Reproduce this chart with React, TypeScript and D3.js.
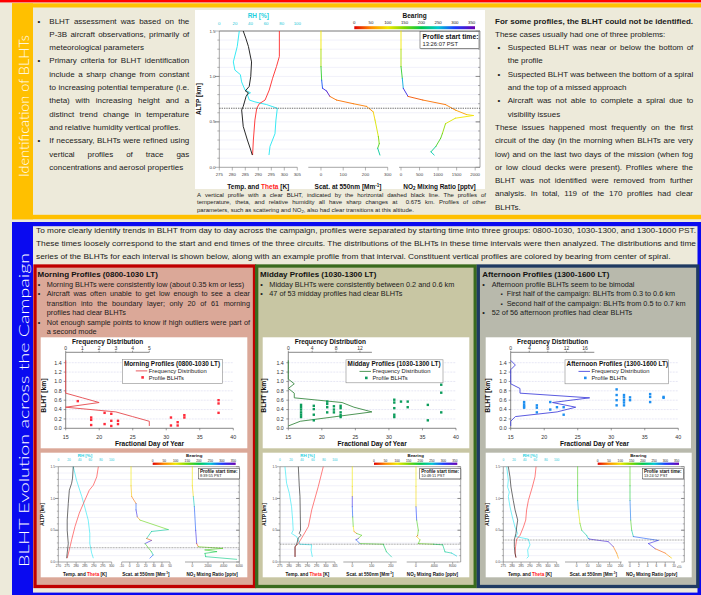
import React from 'react';
import * as d3 from 'd3';

const FONT = '"Liberation Sans", Arial, Helvetica, sans-serif';
const TXT = '#1b1b1b';

// ---------------- frequency distributions (bins of BLHT, km) ----------------
const freqBins = [0.05, 0.15, 0.25, 0.35, 0.45, 0.55, 0.65, 0.75, 0.85, 0.95, 1.05, 1.15, 1.25, 1.35, 1.45];
const morningFreq = [5, 5, 4, 3, 0, 2, 1, 0, 0, 0, 0, 0, 0, 0, 0];
const middayFreq = [0, 2, 8, 14, 11, 9, 1, 1, 0, 1, 0, 0, 0, 0, 0];
const afternoonFreq = [0, 0, 1, 10, 14, 9, 17, 2, 2, 0, 0, 0, 0, 1, 0];

// ---------------- profile BLHTs (fractional day, km) ----------------
const morningDays = [16.8, 18.8, 18.8, 18.8, 20.8, 20.8, 21.8, 21.8, 21.8, 22.8, 22.8, 30.7, 30.7, 31.7, 31.7, 32.7, 32.7, 37.8, 37.8, 37.8];
const morningBLHT = [0.58, 0.23, 0.18, 0.07, 0.33, 0.09, 0.31, 0.16, 0.05, 0.16, 0.09, 0.23, 0.06, 0.13, 0.06, 0.28, 0.23, 0.6, 0.53, 0.33];
const middayDays = [16.9, 16.9, 16.9, 16.9, 16.9, 16.9, 18.8, 18.8, 18.8, 18.8, 20.8, 20.8, 20.8, 20.8, 21.8, 21.8, 21.8, 22.8, 22.8, 22.8, 22.8, 22.8, 30.8, 30.8, 30.8, 30.8, 30.8, 31.8, 32.8, 32.8, 35.8, 35.8, 37.8, 37.8, 37.8];
const middayBLHT = [0.5, 0.45, 0.4, 0.34, 0.29, 0.24, 0.48, 0.41, 0.29, 0.17, 0.57, 0.52, 0.45, 0.34, 0.47, 0.4, 0.34, 0.48, 0.43, 0.34, 0.28, 0.24, 0.61, 0.55, 0.43, 0.29, 0.24, 0.57, 0.57, 0.45, 0.5, 0.17, 0.93, 0.76, 0.34];
const afternoonDays = [17.0, 17.0, 17.0, 17.0, 18.9, 18.9, 18.9, 20.9, 20.9, 21.9, 22.9, 22.9, 30.8, 30.8, 30.8, 30.8, 31.9, 31.9, 31.9, 31.9, 31.9, 32.8, 32.8, 35.8, 35.8, 35.8, 37.8, 37.8];
const afternoonBLHT = [0.56, 0.51, 0.47, 0.44, 0.49, 0.44, 0.34, 0.56, 0.4, 0.45, 0.45, 0.29, 0.83, 0.71, 0.6, 0.49, 0.71, 0.66, 0.6, 0.55, 0.49, 0.66, 0.6, 0.73, 0.67, 0.56, 0.67, 0.65];

// ---------------- example vertical profiles: [value, altitude km, (bearing deg)] ----------------
const mainTemp = [[284.2, 1.5], [285.2, 1.42], [286.2, 1.33], [287.4, 1.16], [287.1, 1.0], [286.5, 0.89], [285.0, 0.84], [286.2, 0.82], [285.3, 0.78], [284.2, 0.67], [283.6, 0.63], [284.2, 0.45], [285.8, 0.3], [287.1, 0.19], [287.7, 0.135]];
const mainTheta = [[298.1, 1.5], [298.1, 1.22], [297.0, 1.11], [295.5, 0.98], [294.2, 0.85], [292.6, 0.74], [290.4, 0.7], [289.4, 0.65], [288.7, 0.52], [288.1, 0.3], [287.8, 0.135]];
const mainRH = [[25.6, 1.5], [23, 1.33], [18, 1.16], [20, 1.07], [27, 1.02], [28.6, 0.94], [33, 0.85], [40, 0.82], [36, 0.8], [38.5, 0.74], [45.7, 0.72], [60.7, 0.69], [74.4, 0.65], [72.6, 0.52], [71.4, 0.37], [65, 0.23], [63.7, 0.135]];
const mainScat = [[0, 1.5, 100], [0, 1.3, 130], [0, 1.11, 180], [3, 0.96, 290], [7, 0.87, 320], [25, 0.84, 340], [40, 0.78, 40], [70, 0.74, 40], [145, 0.7, 45], [205, 0.67, 50], [235, 0.61, 90], [243, 0.52, 110], [258, 0.34, 150], [262, 0.26, 170], [255, 0.21, 230], [265, 0.135, 240]];
const mainNO2 = [[0, 1.5, 100], [0, 1.3, 130], [0, 1.11, 180], [35, 0.98, 260], [61, 0.87, 320], [190, 0.78, 30], [590, 0.74, 40], [1200, 0.69, 45], [1465, 0.63, 60], [1770, 0.58, 90], [1950, 0.57, 100], [1465, 0.54, 110], [1200, 0.48, 140], [1115, 0.37, 160], [1070, 0.32, 170], [940, 0.23, 220], [807, 0.17, 240], [895, 0.135, 240]];

const morningTemp = [[278.4, 1.5], [278.0, 1.32], [277.5, 1.24], [276.2, 1.13], [275.6, 0.92], [275, 0.66], [275, 0.5], [275.6, 0.29], [275, 0.14], [274.7, 0.06]];
const morningTheta = [[292.5, 1.5], [291.6, 1.34], [289.7, 1.21], [287.4, 1.13], [284.1, 0.92], [281.8, 0.77], [279.4, 0.56], [277.5, 0.35], [276.6, 0.24], [275, 0.06]];
const morningRH = [[28, 1.5], [31, 1.4], [34, 1.29], [44, 1.03], [50, 0.85], [56, 0.66], [58, 0.52], [59, 0.45], [59, 0.29], [62.5, 0.14], [65.6, 0.06]];
const morningScat = [[1.6, 1.5, 100], [1.6, 1.2, 80], [2.4, 1.03, 40], [7.8, 0.92, 290], [7.8, 0.82, 320], [9.4, 0.71, 60], [12.7, 0.66, 160], [47.8, 0.51, 230], [27, 0.48, 230], [21, 0.37, 30], [27, 0.34, 320], [19, 0.29, 170], [27, 0.16, 230], [29, 0.11, 290], [25, 0.06, 240]];
const morningNO2 = [[0, 1.5, 100], [0, 1.2, 90], [128, 1.03, 240], [255, 0.87, 290], [425, 0.5, 320], [553, 0.29, 30], [766, 0.24, 160], [3870, 0.215, 170], [1617, 0.19, 180], [3106, 0.163, 200], [1617, 0.136, 210], [1700, 0.084, 220], [5660, 0.042, 230]];

const middayTemp = [[285, 1.5], [285.5, 1.2], [285.9, 1.03], [286.2, 0.5], [285.5, 0.45], [286.5, 0.42], [285, 0.38], [284.1, 0.28], [283.2, 0.24], [283.2, 0.08]];
const middayTheta = [[298.6, 1.5], [295.9, 1.19], [292.3, 0.82], [290.5, 0.56], [287.7, 0.42], [285, 0.29], [283.2, 0.24], [283.2, 0.08]];
const middayRH = [[9, 1.5], [12, 1.24], [17, 1.08], [21, 0.87], [23, 0.66], [24, 0.5], [21, 0.45], [30, 0.4], [33, 0.35], [36, 0.28], [57.6, 0.27], [56.4, 0.19], [58.8, 0.08]];
const middayScat = [[0, 1.5, 100], [0, 1.19, 90], [0, 1.03, 320], [0, 0.87, 290], [2, 0.71, 170], [5, 0.56, 100], [9, 0.48, 40], [22, 0.45, 170], [48, 0.42, 160], [31, 0.37, 330], [19, 0.35, 290], [40, 0.29, 170], [160, 0.28, 200], [177, 0.16, 230], [203, 0.08, 270]];
const middayNO2 = [[0, 1.5, 100], [0, 1.19, 90], [0, 0.87, 300], [145, 0.66, 170], [509, 0.5, 160], [364, 0.42, 30], [145, 0.4, 90], [873, 0.35, 170], [509, 0.29, 160], [3780, 0.28, 200], [5820, 0.27, 220], [6330, 0.16, 230], [7780, 0.14, 250], [8870, 0.094, 280]];

const afternoonTemp = [[277.8, 1.5], [278.75, 1.34], [279.3, 1.18], [280.6, 0.97], [281.6, 0.82], [283.1, 0.66], [282.5, 0.55], [282.1, 0.45], [281.2, 0.35], [281.2, 0.24], [281.6, 0.14], [282.1, 0.07]];
const afternoonTheta = [[293.4, 1.5], [292.8, 1.34], [291.3, 1.18], [289.1, 0.97], [288.1, 0.82], [287.6, 0.66], [286.3, 0.55], [284.4, 0.42], [282.5, 0.36], [281.9, 0.24], [281.6, 0.14], [282.1, 0.07]];
const afternoonRH = [[6.3, 1.5], [9.4, 1.29], [8.1, 1.18], [11.3, 1.1], [9.4, 1.03], [12.5, 0.87], [16.9, 0.71], [21.9, 0.55], [26.9, 0.45], [23.1, 0.4], [46.9, 0.36], [50, 0.27], [45.6, 0.19], [46.9, 0.084], [43.8, 0.058]];
const afternoonScat = [[4.5, 1.5, 170], [4.5, 1.2, 180], [4.5, 0.97, 260], [7.6, 0.82, 110], [15, 0.61, 160], [23, 0.5, 230], [45, 0.42, 240], [53, 0.37, 290], [60, 0.36, 330], [144, 0.32, 330], [167, 0.24, 40], [182, 0.14, 60], [190, 0.06, 100]];
const afternoonNO2 = [[0, 1.5, 170], [0, 1.2, 190], [0, 0.97, 280], [0.15, 0.66, 170], [0.38, 0.5, 230], [0.76, 0.4, 290], [6.4, 0.34, 320], [4.2, 0.29, 320], [5.7, 0.21, 30], [8.0, 0.14, 50], [9.1, 0.08, 90], [9.5, 0.06, 100]];

// ---------------- bearing colour scale ----------------
const bearingStops = [0, 50, 100, 150, 200, 250, 300, 360];
const bearingColors = ['#e00000', '#ff8c00', '#f0e800', '#7ad600', '#00c84a', '#00c8d2', '#1a3cff', '#6a00b0'];
const bearingTicks = [0, 50, 100, 150, 200, 250, 300, 350];
const bearingScale = d3.scaleLinear<string>().domain(bearingStops).range(bearingColors);

// ---------------- text helpers ----------------
let _ctx: any = null;
function textW(s: string, size: number, weight: any = 400) {
  if (!_ctx) _ctx = document.createElement('canvas').getContext('2d');
  _ctx.font = `${weight} ${size}px "Liberation Sans"`;
  return _ctx.measureText(s).width;
}

function TLine({ x, y, text, size, weight = 400, width, fill = TXT }: any) {
  if (!width) return <text x={x} y={y} fontSize={size} fontWeight={weight} fill={fill}>{text}</text>;
  const words = text.split(' ');
  const ws = words.map((w: string) => textW(w, size, weight));
  const total = ws.reduce((a: number, b: number) => a + b, 0);
  const gap = words.length > 1 ? (width - total) / (words.length - 1) : 0;
  let cx = x;
  const spans = words.map((w: string, i: number) => {
    const el = <tspan key={i} x={cx}>{w}</tspan>;
    cx += ws[i] + gap;
    return el;
  });
  return <text y={y} fontSize={size} fontWeight={weight} fill={fill}>{spans}</text>;
}

function Block({ lines, x, xb, bx, width, bwidth, y0, dy, size }: any) {
  return (
    <g>
      {lines.map((l: any, i: number) => {
        const y = y0 + i * dy;
        const tx = l.b || l.ind ? xb : x;
        const w = l.b || l.ind ? bwidth : width;
        return (
          <g key={i}>
            {l.b && <text x={bx} y={y} fontSize={size} fill={TXT}>•</text>}
            <TLine x={tx} y={y} text={l.t} size={size} weight={l.bold ? 700 : 400} width={l.j ? w : undefined} />
          </g>
        );
      })}
    </g>
  );
}

const topLeftLines = [
  { t: 'BLHT assessment was based on the', b: true, j: true },
  { t: 'P-3B aircraft observations, primarily of', ind: true, j: true },
  { t: 'meteorological parameters', ind: true },
  { t: 'Primary criteria for BLHT identification', b: true, j: true },
  { t: 'include a sharp change from constant', ind: true, j: true },
  { t: 'to increasing potential temperature (i.e.', ind: true, j: true },
  { t: 'theta) with increasing height and a', ind: true, j: true },
  { t: 'distinct trend change in temperature', ind: true, j: true },
  { t: 'and relative humidity vertical profiles.', ind: true },
  { t: 'If necessary, BLHTs were refined using', b: true, j: true },
  { t: 'vertical profiles of trace gas', ind: true, j: true },
  { t: 'concentrations and aerosol properties', ind: true },
];

const topRightLines = [
  { t: 'For some profiles, the BLHT could not be identified.', bold: true, j: true },
  { t: 'These cases usually had one of three problems:' },
  { t: 'Suspected BLHT was near or below the bottom of', b: true, j: true },
  { t: 'the profile', ind: true },
  { t: 'Suspected BLHT was between the bottom of a spiral', b: true, j: true },
  { t: 'and the top of a missed approach', ind: true },
  { t: 'Aircraft was not able to complete a spiral due to', b: true, j: true },
  { t: 'visibility issues', ind: true },
  { t: 'These issues happened most frequently on the first', j: true },
  { t: 'circuit of the day (in the morning when BLHTs are very', j: true },
  { t: 'low) and on the last two days of the mission (when fog', j: true },
  { t: 'or low cloud decks were present). Profiles where the', j: true },
  { t: 'BLHT was not identified were removed from further', j: true },
  { t: 'analysis. In total, 119 of the 170 profiles had clear', j: true },
  { t: 'BLHTs.' },
];

const captionLines = [
  'A vertical profile with a clear BLHT, indicated by the horizontal dashed black line. The profiles of',
  'temperature, theta, and relative humidity all have sharp changes at  0.675 km. Profiles of other',
];

const introLines = [
  'To more clearly identify trends in BLHT from day to day across the campaign, profiles were separated by starting time into three groups: 0800-1030, 1030-1300, and 1300-1600 PST.',
  'These times loosely correspond to the start and end times of the three circuits. The distributions of the BLHTs in these time intervals were then analyzed. The distributions and time',
  'series of the BLHTs for each interval is shown below, along with an example profile from that interval. Constituent vertical profiles are colored by bearing from center of spiral.',
];

const morningNotes = [
  { t: 'Morning BLHTs were consistently low (about 0.35 km or less)', b: true },
  { t: 'Aircraft was often unable to get low enough to see a clear', b: true, j: true },
  { t: 'transition into the boundary layer; only 20 of 61 morning', ind: true, j: true },
  { t: 'profiles had clear BLHTs', ind: true },
  { t: 'Not enough sample points to know if high outliers were part of', b: true, j: true },
  { t: 'a second mode', ind: true },
];
const middayNotes = [
  { t: 'Midday BLHTs were consistently between 0.2 and 0.6 km', b: true },
  { t: '47 of 53 midday profiles had clear BLHTs', b: true },
];

// ---------------- profile chart ----------------
function Profile(c: any) {
  const y = d3.scaleLinear().domain([0, 1.5]).range([c.yBot, c.yTop]);
  const xT = d3.scaleLinear().domain(c.tDom).range(c.p1);
  const xR = d3.scaleLinear().domain([0, 100]).range(c.p1);
  const xS = d3.scaleLinear().domain(c.sDom).range(c.p2);
  const xN = d3.scaleLinear().domain(c.nDom).range(c.p3);
  const L = c.p1[0];
  const R = c.rightX;
  const mk = (sx: any) => d3.line<any>().x((d: any) => sx(d[0])).y((d: any) => y(d[1]));
  const segs = (data: any[], sx: any) =>
    data.slice(1).map((d: any, i: number) => {
      const p = data[i];
      return <line key={i} x1={sx(p[0])} y1={y(p[1])} x2={sx(d[0])} y2={y(d[1])} stroke={bearingScale(p[2])} strokeWidth={c.lw} strokeLinecap="round" />;
    });
  const minor = d3.range(1, 15).map((k) => k / 10);
  const major = [0, 0.5, 1.0, 1.5];
  const cb = c.cbar;
  const cbx = d3.scaleLinear().domain([0, 360]).range([cb[0], cb[0] + cb[2]]);
  const gid = 'cbg-' + c.id;
  const tb = c.tbox;
  const axisCol = '#6a6a6a';
  const tickCol = '#444';
  const panels = [
    { r: c.p1, sx: xT, ticks: c.tTicks },
    { r: c.p2, sx: xS, ticks: c.sTicks },
    { r: c.p3, sx: xN, ticks: c.nTicks },
  ];
  const tl = c.fsTick * 0.45;
  return (
    <g>
      <defs>
        <linearGradient id={gid} x1="0" x2="1" y1="0" y2="0">
          {bearingStops.map((s, i) => (
            <stop key={i} offset={s / 360} stopColor={bearingColors[i]} />
          ))}
        </linearGradient>
      </defs>
      <rect x={c.box[0]} y={c.box[1]} width={c.box[2]} height={c.box[3]} fill="#fff" />
      {minor.map((v) => (
        <line key={v} x1={L} x2={R} y1={y(v)} y2={y(v)} stroke="#e2e2f4" strokeWidth={0.5} />
      ))}
      <line x1={L} x2={R} y1={c.yTop} y2={c.yTop} stroke={axisCol} strokeWidth={c.lw} />
      <line x1={L} x2={L} y1={c.yTop} y2={c.yBot} stroke={axisCol} strokeWidth={0.6} />
      <line x1={R} x2={R} y1={c.yTop} y2={c.yBot} stroke={axisCol} strokeWidth={0.6} />
      {minor.concat(major).map((v, i) => {
        const len = major.includes(v) ? tl * 2.2 : tl;
        return (
          <g key={i}>
            <line x1={L - len} x2={L} y1={y(v)} y2={y(v)} stroke={axisCol} strokeWidth={0.5} />
            <line x1={R - len} x2={R} y1={y(v)} y2={y(v)} stroke={axisCol} strokeWidth={0.5} />
          </g>
        );
      })}
      {major.map((v) => (
        <text key={v} x={c.yTickX} y={y(v) + c.fsTick * 0.35} fontSize={c.fsTick} textAnchor="end" fill={tickCol}>
          {v.toFixed(1)}
        </text>
      ))}
      {panels.map((p, i) => (
        <g key={i}>
          <line x1={p.r[0]} x2={p.r[1]} y1={c.yBot} y2={c.yBot} stroke={axisCol} strokeWidth={0.6} />
          {p.ticks.map((t: number) => (
            <g key={t}>
              <line x1={p.sx(t)} x2={p.sx(t)} y1={c.yBot} y2={c.yBot + tl * 1.6} stroke={axisCol} strokeWidth={0.5} />
              <text x={p.sx(t)} y={c.bTickY} fontSize={c.fsTick} textAnchor="middle" fill={tickCol}>
                {t}
              </text>
            </g>
          ))}
        </g>
      ))}
      {c.nSuffix && (
        <text x={c.p3[1] + 2} y={c.bTickY + 0.5} fontSize={c.fsTick * 0.8} fill={tickCol}>
          {c.nSuffix}
        </text>
      )}
      {/* RH top axis */}
      {[0, 20, 40, 60, 80, 100].map((t) => (
        <text key={t} x={xR(t)} y={c.rhTickY} fontSize={c.fsTick} textAnchor="middle" fill="#1fc8d8">
          {t}
        </text>
      ))}
      <text x={(c.p1[0] + c.p1[1]) / 2} y={c.rhTitleY} fontSize={c.fsHead} fontWeight={700} textAnchor="middle" fill="#1fd0e0">
        RH [%]
      </text>
      {/* bearing colour bar */}
      <rect x={cb[0]} y={cb[1]} width={cb[2]} height={cb[3]} fill={`url(#${gid})`} />
      {bearingTicks.map((t) => (
        <text key={t} x={cbx(t)} y={c.cbTickY} fontSize={c.fsTick} textAnchor="middle" fill="#222">
          {t}
        </text>
      ))}
      <text x={cb[0] + cb[2] / 2} y={c.cbTitleY} fontSize={c.fsHead} fontWeight={700} textAnchor="middle" fill="#111">
        Bearing
      </text>
      {/* profiles */}
      <path d={mk(xR)(c.rh) as string} fill="none" stroke="#22e6f2" strokeWidth={c.lw} />
      <path d={mk(xT)(c.theta) as string} fill="none" stroke="#ff2a2a" strokeWidth={c.lw} />
      <path d={mk(xT)(c.temp) as string} fill="none" stroke="#111" strokeWidth={c.lw} />
      {segs(c.scat, xS)}
      {segs(c.no2, xN)}
      {/* BLHT line */}
      <line x1={L} x2={R} y1={y(c.blht)} y2={y(c.blht)} stroke="#333" strokeWidth={c.lw * 0.8} strokeDasharray={`${c.lw * 1.5},${c.lw * 1.1}`} />
      {/* start time box */}
      <rect x={tb[0] + 0.8} y={tb[1] + 0.8} width={tb[2]} height={tb[3]} fill="#bbb" />
      <rect x={tb[0]} y={tb[1]} width={tb[2]} height={tb[3]} fill="#fff" stroke="#555" strokeWidth={0.6} />
      <text x={tb[0] + tb[3] * 0.15} y={tb[1] + tb[3] * 0.44} fontSize={c.fsTime[0]} fontWeight={700} fill="#111">
        Profile start time:
      </text>
      <text x={tb[0] + tb[3] * 0.15} y={tb[1] + tb[3] * 0.86} fontSize={c.fsTime[1]} fill="#222">
        {c.time}
      </text>
      {/* axis titles */}
      <text x={c.altX} y={(c.yTop + c.yBot) / 2} fontSize={c.fsTitle} fontWeight={700} textAnchor="middle" transform={`rotate(-90 ${c.altX} ${(c.yTop + c.yBot) / 2})`} fill="#111">
        ALTP [km]
      </text>
      <text x={(c.p1[0] + c.p1[1]) / 2} y={c.titleY} fontSize={c.fsTitle} fontWeight={700} textAnchor="middle" fill="#111">
        Temp. and <tspan fill="#ff1a1a">Theta</tspan> [K]
      </text>
      <text x={(c.p2[0] + c.p2[1]) / 2} y={c.titleY} fontSize={c.fsTitle} fontWeight={700} textAnchor="middle" fill="#111">
        Scat. at 550nm [Mm<tspan dy={-c.fsTitle * 0.35} fontSize={c.fsTitle * 0.7}>-1</tspan>
        <tspan dy={c.fsTitle * 0.35}>]</tspan>
      </text>
      <text x={(c.p3[0] + c.p3[1]) / 2} y={c.titleY} fontSize={c.fsTitle} fontWeight={700} textAnchor="middle" fill="#111">
        NO<tspan dy={c.fsTitle * 0.25} fontSize={c.fsTitle * 0.7}>2</tspan>
        <tspan dy={-c.fsTitle * 0.25}> Mixing Ratio [pptv]</tspan>
      </text>
    </g>
  );
}

// ---------------- BLHT scatter / frequency chart ----------------
function Scatter(c: any) {
  const y = d3.scaleLinear().domain([0, 1.4]).range([c.y0, c.y14]);
  const x = d3.scaleLinear().domain([15, 40]).range([c.l, c.r]);
  const f = d3.scaleLinear().domain([0, c.fMax]).range([c.l, c.l + 83.6]);
  const yt = d3.range(0, 8).map((k) => k * 0.2);
  const fl = d3.line<number>().x((d) => f(d)).y((d, i) => y(freqBins[i]));
  const [lx, ly, lw, lh] = c.legend;
  const ax = '#555';
  return (
    <g>
      <rect x={c.box[0]} y={c.box[1]} width={c.box[2]} height={c.box[3]} fill="#fff" />
      {yt.slice(1).map((v) => (
        <line key={v} x1={c.l} x2={c.r} y1={y(v)} y2={y(v)} stroke="#d6d6ee" strokeWidth={0.6} strokeDasharray="2,1" />
      ))}
      <line x1={c.l} x2={c.l} y1={c.top} y2={c.y0} stroke={ax} strokeWidth={0.7} />
      {yt.map((v) => (
        <g key={v}>
          <line x1={c.l - 2} x2={c.l} y1={y(v)} y2={y(v)} stroke={ax} strokeWidth={0.6} />
          <text x={c.yTickX} y={y(v) + 1.9} fontSize={5.3} textAnchor="end" fill="#333">
            {v.toFixed(1)}
          </text>
        </g>
      ))}
      <line x1={c.l} x2={c.r} y1={c.y0} y2={c.y0} stroke={ax} strokeWidth={0.7} />
      {[15, 20, 25, 30, 35, 40].map((v) => (
        <g key={v}>
          <line x1={x(v)} x2={x(v)} y1={c.y0} y2={c.y0 + 2} stroke={ax} strokeWidth={0.6} />
          <text x={x(v)} y={c.y0 + 10.2} fontSize={5.3} textAnchor="middle" fill="#333">
            {v}
          </text>
        </g>
      ))}
      <line x1={c.l} x2={c.l + 83.6} y1={c.top} y2={c.top} stroke={ax} strokeWidth={0.7} />
      {c.fTicks.map((v: number) => (
        <g key={v}>
          <line x1={f(v)} x2={f(v)} y1={c.top} y2={c.top - 1.6} stroke={ax} strokeWidth={0.6} />
          <text x={f(v)} y={c.top - 2.4} fontSize={5} textAnchor="middle" fill="#333">
            {v}
          </text>
        </g>
      ))}
      <text x={c.l + 42} y={c.top - 8.6} fontSize={6.5} fontWeight={700} textAnchor="middle" fill="#111">
        Frequency Distribution
      </text>
      <text x={c.ylabX} y={(c.y0 + c.y14) / 2} fontSize={6.8} fontWeight={700} textAnchor="middle" transform={`rotate(-90 ${c.ylabX} ${(c.y0 + c.y14) / 2})`} fill="#111">
        BLHT [km]
      </text>
      <text x={(c.l + c.r) / 2} y={c.y0 + 18} fontSize={6.6} fontWeight={700} textAnchor="middle" fill="#111">
        Fractional Day of Year
      </text>
      <path d={fl(c.freq) as string} fill="none" stroke={c.lineColor} strokeWidth={0.9} />
      {c.days.map((d: number, i: number) => (
        <rect key={i} x={x(d) - 1.2} y={y(c.blht[i]) - 1.2} width={2.4} height={2.4} fill={c.ptColor} />
      ))}
      <rect x={lx} y={ly} width={lw} height={lh} fill="#fff" stroke="#8a8a8a" strokeWidth={0.6} />
      <text x={lx + 1.6} y={ly + 6.4} fontSize={6.4} fontWeight={700} fill="#111">
        {c.title}
      </text>
      <line x1={lx + 13.5} x2={lx + 25} y1={ly + 11.6} y2={ly + 11.6} stroke={c.lineColor} strokeWidth={0.9} />
      <text x={lx + 26.5} y={ly + 13.6} fontSize={5.8} fill="#222">
        Frequency Distribution
      </text>
      <rect x={lx + 19} y={ly + 16.8} width={2.6} height={2.6} fill={c.ptColor} />
      <text x={lx + 26.5} y={ly + 20.6} fontSize={5.8} fill="#222">
        Profile BLHTs
      </text>
    </g>
  );
}

const mainCfg = {
  id: 'main', box: [195, 10, 290, 179], yTop: 31, yBot: 167.3,
  p1: [219.3, 297.3], tDom: [275, 305], tTicks: [275, 280, 285, 290, 295, 300, 305],
  p2: [308.3, 387.7], sDom: [-57, 300], sTicks: [0, 100, 200, 300],
  p3: [399, 480], nDom: [-54, 2130], nTicks: [0, 500, 1000, 1500, 2000],
  rightX: 480, cbar: [354.3, 26.2, 120.7, 3], tbox: [420, 31.5, 59, 17], time: '13:26:07 PST', blht: 0.65,
  fsTick: 4.4, fsTitle: 6.5, fsHead: 6.5, fsTime: [6.8, 5.8],
  rhTitleY: 17.5, rhTickY: 25, cbTitleY: 17.5, cbTickY: 24.2, bTickY: 176.3, titleY: 188.8, altX: 201.5, yTickX: 215.5, lw: 0.9,
  temp: mainTemp, theta: mainTheta, rh: mainRH, scat: mainScat, no2: mainNO2,
};
const smallBase = {
  yTop: 466.7, yBot: 562, fsTick: 3.2, fsTitle: 4.6, fsHead: 4.4, fsTime: [4.6, 3.9],
  rhTitleY: 456.8, rhTickY: 461.4, cbTitleY: 456.8, cbTickY: 461.6, bTickY: 567.4, titleY: 575.8, lw: 0.6,
};
const morningCfg = {
  ...smallBase, id: 'mo', box: [40.7, 452.7, 206.6, 124.6],
  p1: [58.3, 111.7], tDom: [270, 300], tTicks: [270, 275, 280, 285, 290, 295, 300],
  p2: [121.7, 170], sDom: [-10, 50], sTicks: [-10, 0, 10, 20, 30, 40, 50],
  p3: [185, 239.3], nDom: [-936, 5996], nTicks: [0, 2000, 4000, 6000],
  rightX: 239.3, cbar: [152.7, 462.6, 83, 2.3], tbox: [198.3, 468.3, 41, 10.6], time: '8:39:55 PST', blht: 0.225,
  altX: 44.5, yTickX: 55,
  temp: morningTemp, theta: morningTheta, rh: morningRH, scat: morningScat, no2: morningNO2,
};
const middayCfg = {
  ...smallBase, id: 'md', box: [262.7, 452.7, 206.6, 124.6],
  p1: [280, 335], tDom: [275, 305], tTicks: [275, 280, 285, 290, 295, 300, 305],
  p2: [343.3, 396.7], sDom: [-46.5, 229.7], sTicks: [0, 100, 200],
  p3: [406.7, 458.3], nDom: [-2029, 9229], nTicks: [0, 4000, 8000],
  rightX: 460.7, cbar: [374, 462.6, 83.3, 2.3], tbox: [419.7, 468.3, 41, 10.6], time: '10:48:11 PST', blht: 0.28,
  altX: 266.5, yTickX: 277,
  temp: middayTemp, theta: middayTheta, rh: middayRH, scat: middayScat, no2: middayNO2,
};
const afternoonCfg = {
  ...smallBase, id: 'af', box: [485.7, 452.7, 206, 124.6],
  p1: [503.3, 556.7], tDom: [275, 305], tTicks: [275, 280, 285, 290, 295, 300, 305],
  p2: [565, 621.7], sDom: [-53, 205], sTicks: [0, 50, 100, 150, 200],
  p3: [628.3, 675], nDom: [-0.39, 10.23], nTicks: [0, 2, 4, 6, 8, 10], nSuffix: 'x10³',
  rightX: 684.3, cbar: [597.7, 462.6, 81.3, 2.3], tbox: [642.3, 468.3, 41, 10.6], time: '13:24:52 PST', blht: 0.346,
  altX: 489.5, yTickX: 500,
  temp: afternoonTemp, theta: afternoonTheta, rh: afternoonRH, scat: afternoonScat, no2: afternoonNO2,
};

export default function App() {
  const beige = '#EDEADA';
  return (
    <svg width={701} height={595} viewBox="0 0 701 595" style={{ position: 'absolute', left: 0, top: 0, fontFamily: FONT }}>
      <rect width={701} height={595} fill={beige} />
      {/* ---------- top section frame ---------- */}
      <rect x={0} y={0} width={701} height={2.4} fill="#FF0000" />
      <rect x={12} y={3.3} width={689} height={4.2} fill="#FFC000" />
      <rect x={12} y={3.3} width={21} height={216} fill="#FFC000" />
      <rect x={12} y={214.8} width={689} height={4.4} fill="#FFC000" />
      <text transform="translate(28.6 106) rotate(-90)" textAnchor="middle" fontFamily="Lato, 'Open Sans', sans-serif" fontWeight={300} fontSize={14.5} fill="#fff" textLength={142} lengthAdjust="spacingAndGlyphs">
        Identification of BLHTs
      </text>
      <Block lines={topLeftLines} x={49.3} xb={49.3} bx={37.5} width={140} bwidth={140} y0={23.5} dy={13.3} size={8} />
      <Block lines={topRightLines} x={495} xb={507.7} bx={497.5} width={198} bwidth={185.6} y0={23.5} dy={13.3} size={8} />
      <Profile {...mainCfg} />
      {captionLines.map((t, i) => (
        <TLine key={i} x={197} y={196.6 + i * 7.6} text={t} size={6} width={289} fill="#222" />
      ))}
      <text x={197} y={211.8} fontSize={6} fill="#222">
        parameters, such as scattering and NO<tspan dy={1.2} fontSize={4.2}>2</tspan>
        <tspan dy={-1.2}>, also had clear transitions at this altitude.</tspan>
      </text>

      {/* ---------- bottom section frame ---------- */}
      <rect x={12} y={222} width={689} height={4.2} fill="#0A0AF0" />
      <rect x={12} y={222} width={21} height={373} fill="#0A0AF0" />
      <rect x={697.5} y={222} width={3.5} height={373} fill="#0A0AF0" />
      <rect x={12} y={592.6} width={689} height={2.4} fill="#0A0AF0" />
      <text transform="translate(28.6 410) rotate(-90)" textAnchor="middle" fontFamily="Lato, 'Open Sans', sans-serif" fontWeight={300} fontSize={14.5} fill="#fff" textLength={314} lengthAdjust="spacingAndGlyphs">
        BLHT Evolution across the Campaign
      </text>
      {introLines.map((t, i) => (
        <text key={i} x={36} y={232.8 + i * 13.3} fontSize={8} fill={TXT} textLength={i < 2 ? 660 : 634.5} lengthAdjust="spacingAndGlyphs">
          {t}
        </text>
      ))}

      {/* column boxes */}
      <rect x={35} y={266} width={219.5} height={320.5} fill="#DBA898" stroke="#C00000" strokeWidth={3.3} />
      <rect x={256.7} y={266} width={218.5} height={320.5} fill="#C8C6A3" stroke="#3A6B1E" strokeWidth={3.3} />
      <rect x={478.3} y={266} width={219.5} height={320.5} fill="#B8B9AC" stroke="#1F3A62" strokeWidth={3.3} />

      <text x={37.5} y={277.2} fontSize={8} fontWeight={700} fill="#111">Morning Profiles (0800-1030 LT)</text>
      <text x={260} y={277.2} fontSize={8} fontWeight={700} fill="#111">Midday Profiles (1030-1300 LT)</text>
      <text x={482.3} y={277.2} fontSize={8} fontWeight={700} fill="#111">Afternoon Profiles (1300-1600 LT)</text>

      <Block lines={morningNotes} x={46.7} xb={46.7} bx={37.8} width={203.3} bwidth={203.3} y0={286.8} dy={9.5} size={7.3} />
      <Block lines={middayNotes} x={269.3} xb={269.3} bx={260.2} width={200} bwidth={200} y0={286.8} dy={9.5} size={7.3} />
      <g>
        <text x={482.3} y={286.8} fontSize={7.3} fill={TXT}>•</text>
        <text x={491.7} y={286.8} fontSize={7.3} fill={TXT}>Afternoon profile BLHTs seem to be bimodal</text>
        <text x={500.5} y={296.3} fontSize={6} fill={TXT}>▪</text>
        <text x={506.7} y={296.3} fontSize={7.3} fill={TXT}>First half of the campaign: BLHTs from 0.3 to 0.6 km</text>
        <text x={500.5} y={305.8} fontSize={6} fill={TXT}>▪</text>
        <text x={506.7} y={305.8} fontSize={7.3} fill={TXT}>Second half of the campaign: BLHTs from 0.5 to 0.7 km</text>
        <text x={482.3} y={315.3} fontSize={7.3} fill={TXT}>•</text>
        <text x={491.7} y={315.3} fontSize={7.3} fill={TXT}>52 of 56 afternoon profiles had clear BLHTs</text>
      </g>

      <Scatter box={[40.7, 337.3, 206.6, 111]} l={65.7} r={233.3} y0={428.3} y14={362.7} top={352.3} fMax={5} fTicks={[0, 1, 2, 3, 4, 5]}
        freq={morningFreq} days={morningDays} blht={morningBLHT} lineColor="#e5484d" ptColor="#ff2b3a"
        legend={[122.3, 359.3, 100, 24]} title="Morning Profiles (0800-1030 LT)" ylabX={46} yTickX={61.7} />
      <Scatter box={[262.7, 337.3, 206.6, 111]} l={288.3} r={456} y0={428.3} y14={362.7} top={352.3} fMax={14} fTicks={[0, 4, 8, 12]}
        freq={middayFreq} days={middayDays} blht={middayBLHT} lineColor="#3b8a44" ptColor="#0c9c5c"
        legend={[346, 359.8, 97, 23]} title="Midday Profiles (1030-1300 LT)" ylabX={266} yTickX={283.8} />
      <Scatter box={[485.7, 337.3, 205.3, 111]} l={510.7} r={678.3} y0={428.3} y14={362.7} top={352.3} fMax={18} fTicks={[0, 4, 8, 12, 16]}
        freq={afternoonFreq} days={afternoonDays} blht={afternoonBLHT} lineColor="#4848dc" ptColor="#1e8ff0"
        legend={[565, 359.8, 103.3, 24]} title="Afternoon Profiles (1300-1600 LT)" ylabX={490} yTickX={506.7} />

      <Profile {...morningCfg} />
      <Profile {...middayCfg} />
      <Profile {...afternoonCfg} />
    </svg>
  );
}
